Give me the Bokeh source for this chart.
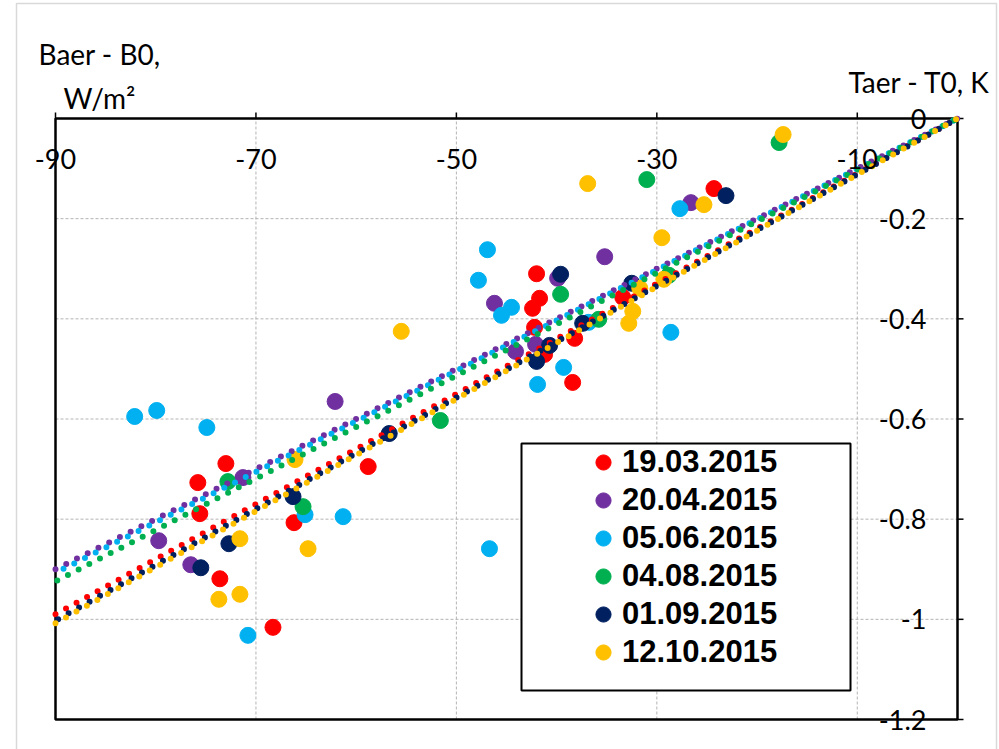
from bokeh.plotting import figure
from bokeh.models import Range1d, Legend, LegendItem
from bokeh.core.properties import value
from bokeh.embed import file_html
from bokeh.resources import INLINE

# ---------------- data ----------------
x_ticks = [-90, -70, -50, -30, -10]
x_tick_labels = ["-90", "-70", "-50", "-30", "-10"]
y_ticks = [0, -0.2, -0.4, -0.6, -0.8, -1.0, -1.2]
y_tick_labels = ["0", "-0.2", "-0.4", "-0.6", "-0.8", "-1", "-1.2"]

x_title = "Taer - T0, K"
y_title_1 = "Baer - B0,"
y_title_2 = "W/m²"

series_names = ["19.03.2015", "20.04.2015", "05.06.2015", "04.08.2015", "01.09.2015", "12.10.2015"]
series_colors = ["#FF0000", "#7030A0", "#00B0F0", "#00B050", "#002060", "#FFC000"]

red_x = [-73.0, -75.8, -75.6, -73.6, -68.3, -66.2, -58.8, -42.0, -41.7, -42.4, -42.2, -41.2, -38.2, -38.4, -33.4, -24.3]
red_y = [-0.689, -0.727, -0.789, -0.919, -1.016, -0.807, -0.695, -0.310, -0.359, -0.379, -0.417, -0.471, -0.439, -0.527, -0.357, -0.140]

purple_x = [-35.2, -39.9, -46.2, -42.1, -44.1, -71.3, -79.7, -76.5, -62.1, -26.6]
purple_y = [-0.276, -0.319, -0.369, -0.451, -0.465, -0.717, -0.843, -0.891, -0.565, -0.168]

cyan_x = [-46.9, -47.8, -44.5, -45.5, -36.8, -39.3, -41.9, -28.6, -27.7, -82.1, -79.9, -74.9, -65.1, -61.3, -70.8, -46.7]
cyan_y = [-0.262, -0.323, -0.377, -0.393, -0.407, -0.497, -0.531, -0.427, -0.180, -0.595, -0.583, -0.617, -0.791, -0.795, -1.032, -0.859]

green_x = [-39.6, -35.8, -28.8, -31.0, -17.8, -72.8, -65.3, -51.6]
green_y = [-0.351, -0.401, -0.313, -0.122, -0.048, -0.725, -0.775, -0.603]

navy_x = [-39.6, -40.7, -42.0, -37.4, -32.5, -23.1, -56.7, -66.3, -72.7, -75.5]
navy_y = [-0.311, -0.453, -0.485, -0.409, -0.329, -0.154, -0.629, -0.755, -0.849, -0.897]

yellow_x = [-36.9, -29.5, -31.7, -29.3, -32.4, -32.8, -25.3, -17.4, -55.5, -66.1, -71.6, -64.8, -73.7, -71.6]
yellow_y = [-0.130, -0.238, -0.339, -0.321, -0.385, -0.409, -0.172, -0.032, -0.425, -0.681, -0.839, -0.859, -0.960, -0.950]

# linear trendlines through the origin: y = slope * x
trend_slopes = [0.01100, 0.01000, 0.01008, 0.01027, 0.01114, 0.01120]
trend_x = [-90, 0]

series_x = [red_x, purple_x, cyan_x, green_x, navy_x, yellow_x]
series_y = [red_y, purple_y, cyan_y, green_y, navy_y, yellow_y]

# ---------------- layout (pixel positions of the plot area) ----------------
W, H = 999, 749
X0, X1, Y0, Y1 = -90.0, 0.0, -1.2, 0.0
FL, FR, FT, FB = 55, 957, 118, 719
KX = (X1 - X0) / (FR - FL)   # data units per pixel
KY = (Y1 - Y0) / (FB - FT)


def px_x(px):
    return X0 + (px - FL) * KX


def px_y(py):
    return Y1 - (py - FT) * KY


p = figure(width=W, height=H,
           x_range=Range1d(px_x(0), px_x(W)), y_range=Range1d(px_y(H), px_y(0)),
           x_axis_type=None, y_axis_type=None,
           output_backend="svg", toolbar_location=None,
           min_border=0, background_fill_color="white", border_fill_color="white")
p.outline_line_color = None
p.grid.visible = False

# outer light-grey chart border
p.quad(left=[px_x(16)], right=[px_x(996)], top=[px_y(3)], bottom=[px_y(790)],
       fill_color=None, line_color="#d9d9d9", line_width=1.5)

# gridlines
gx = x_ticks[1:]
p.segment(x0=gx, y0=[Y0] * len(gx), x1=gx, y1=[Y1] * len(gx),
          line_color="#b4b4b4", line_dash="3 2", line_width=1)
gy = y_ticks[1:-1]
p.segment(x0=[X0] * len(gy), y0=gy, x1=[X1] * len(gy), y1=gy,
          line_color="#b4b4b4", line_dash="3 2", line_width=1)

# plot-area frame (axes lines)
p.quad(left=[X0], right=[X1], top=[Y1], bottom=[Y0],
       fill_color=None, line_color="black", line_width=2.5)

# tick marks: x axis on top (outwards up), y axis on the right (outwards right)
TL = 6
p.segment(x0=x_ticks, y0=[Y1] * len(x_ticks), x1=x_ticks, y1=[Y1 + TL * KY] * len(x_ticks),
          line_color="black", line_width=1.5)
p.segment(x0=[X1] * len(y_ticks), y0=y_ticks, x1=[X1 + TL * KX] * len(y_ticks), y1=y_ticks,
          line_color="black", line_width=1.5)

# data points
renderers = []
for xs, ys, c in zip(series_x, series_y, series_colors):
    r = p.scatter(xs, ys, size=16, marker="circle", fill_color=c, line_color=c)
    renderers.append(r)

# trendlines (round dotted), drawn above the markers
dash_offsets = [0, 0, 3, -2, -3, 0]
for s, c, off in zip(trend_slopes, series_colors, dash_offsets):
    p.line(trend_x, [s * v for v in trend_x], line_color=c, line_width=6,
           line_dash="0 12", line_cap="round", line_dash_offset=off)

# tick labels (inside the plot area, as Excel draws them)
p.text(x=x_ticks, y=[Y1] * len(x_ticks), text=x_tick_labels, y_offset=40,
       text_align="center", text_baseline="middle",
       text_font=value("Lato"), text_font_size="27px", text_color="black")
p.text(x=[X1] * len(y_ticks), y=y_ticks, text=y_tick_labels, x_offset=-31,
       text_align="right", text_baseline="middle",
       text_font=value("Lato"), text_font_size="27px", text_color="black")

# axis titles
p.text(x=[px_x(38), px_x(63)], y=[px_y(53), px_y(97)], text=[y_title_1, y_title_2],
       text_align="left", text_baseline="alphabetic",
       text_font=value("Lato"), text_font_size="28px", text_color="black")
p.text(x=[px_x(848)], y=[px_y(81)], text=[x_title],
       text_align="left", text_baseline="alphabetic",
       text_font=value("Lato"), text_font_size="28px", text_color="black")

# legend frame
p.quad(left=[px_x(521)], right=[px_x(850)], top=[px_y(443)], bottom=[px_y(690)],
       fill_color="white", line_color="black", line_width=2)

legend = Legend(items=[LegendItem(label=n, renderers=[r]) for n, r in zip(series_names, renderers)],
                location=(584, H - 671), orientation="vertical")
legend.glyph_width = 38
legend.glyph_height = 38
legend.label_height = 38
legend.label_standoff = 0
legend.spacing = 0
legend.padding = 0
legend.margin = 0
legend.label_text_font = "Liberation Sans"
legend.label_text_font_style = "bold"
legend.label_text_font_size = "31px"
legend.label_text_color = "black"
legend.border_line_color = None
legend.background_fill_alpha = 0
p.add_layout(legend)

open("out.html", "w").write(file_html(p, INLINE))
